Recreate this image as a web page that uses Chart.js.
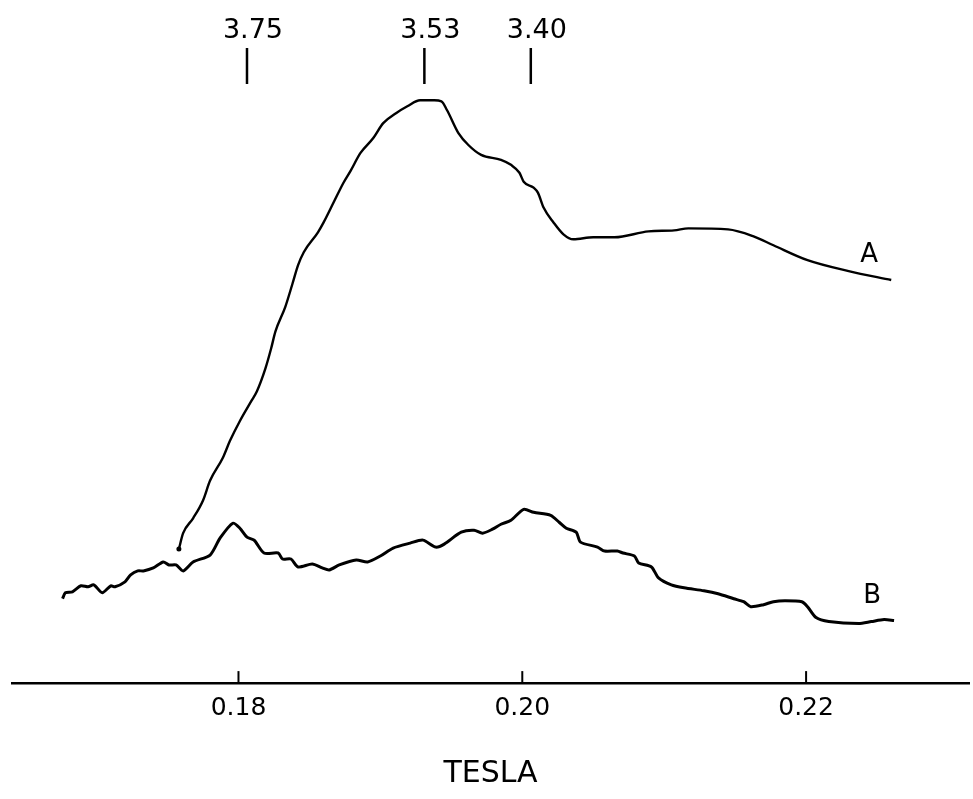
<!DOCTYPE html>
<html>
<head>
<meta charset="utf-8">
<title>ESR spectra A and B</title>
<script src="https://cdn.jsdelivr.net/npm/chart.js@4.4.1/dist/chart.umd.min.js"></script>
<style>
  html, body { margin: 0; padding: 0; background: #ffffff; }
  #wrap { width: 973px; height: 799px; position: relative; }
</style>
</head>
<body>
<div id="wrap"><canvas id="esrChart"></canvas></div>
<script>
// Magnetic field (tesla) and signal (arbitrary units)
const fieldA = [0.1758, 0.1761, 0.1768, 0.1775, 0.1780, 0.1789, 0.1794, 0.1801, 0.1809, 0.1813,
  0.1819, 0.1823, 0.1826, 0.1833, 0.1838, 0.1842, 0.1846, 0.1856, 0.1860, 0.1867,
  0.1874, 0.1879, 0.1886, 0.1895, 0.1902, 0.1911, 0.1919, 0.1928, 0.1938, 0.1943,
  0.1947, 0.1955, 0.1962, 0.1971, 0.1985, 0.1992, 0.1998, 0.2001, 0.2008, 0.2011,
  0.2015, 0.2022, 0.2029, 0.2036, 0.2050, 0.2065, 0.2089, 0.2107, 0.2117, 0.2145,
  0.2163, 0.2177, 0.2201, 0.2230, 0.2260];
const signalA = [13.5, 15.1, 16.6, 18.4, 20.4, 22.7, 24.4, 26.4, 28.4, 29.4,
  31.7, 33.7, 35.4, 37.9, 40.2, 42.1, 43.4, 45.4, 46.4, 48.4,
  50.4, 51.6, 53.4, 54.9, 56.4, 57.4, 58.1, 58.7, 58.7, 58.6,
  57.7, 55.4, 54.2, 53.2, 52.7, 52.2, 51.4, 50.5, 49.9, 49.4,
  47.9, 46.4, 45.2, 44.7, 44.9, 44.9, 45.5, 45.6, 45.8, 45.7,
  45.0, 44.1, 42.6, 41.5, 40.6];

const fieldB = [0.1676, 0.1678, 0.1683, 0.1689, 0.1694, 0.1698, 0.1704, 0.1710, 0.1713, 0.1720,
  0.1724, 0.1729, 0.1733, 0.1740, 0.1747, 0.1751, 0.1756, 0.1761, 0.1768, 0.1780,
  0.1787, 0.1796, 0.1801, 0.1806, 0.1811, 0.1818, 0.1828, 0.1831, 0.1837, 0.1842,
  0.1852, 0.1859, 0.1864, 0.1871, 0.1883, 0.1891, 0.1900, 0.1909, 0.1921, 0.1930,
  0.1939, 0.1945, 0.1957, 0.1966, 0.1972, 0.1979, 0.1985, 0.1992, 0.2001, 0.2008,
  0.2020, 0.2026, 0.2031, 0.2038, 0.2041, 0.2053, 0.2058, 0.2067, 0.2071, 0.2079,
  0.2082, 0.2091, 0.2096, 0.2105, 0.2114, 0.2128, 0.2138, 0.2149, 0.2156, 0.2161,
  0.2170, 0.2177, 0.2185, 0.2197, 0.2201, 0.2207, 0.2216, 0.2237, 0.2246, 0.2255,
  0.2262];
const signalB = [8.5, 9.1, 9.2, 9.8, 9.7, 9.9, 9.1, 9.8, 9.7, 10.2,
  10.9, 11.3, 11.3, 11.6, 12.2, 11.9, 11.9, 11.3, 12.2, 12.9,
  14.6, 16.1, 15.6, 14.7, 14.4, 13.1, 13.1, 12.5, 12.5, 11.7,
  12.0, 11.6, 11.4, 11.9, 12.4, 12.2, 12.8, 13.6, 14.1, 14.4,
  13.7, 14.0, 15.2, 15.4, 15.1, 15.5, 16.0, 16.4, 17.5, 17.2,
  16.9, 16.2, 15.6, 15.2, 14.2, 13.7, 13.3, 13.3, 13.1, 12.8,
  12.1, 11.7, 10.6, 9.9, 9.6, 9.3, 9.0, 8.5, 8.2, 7.7,
  7.9, 8.2, 8.3, 8.2, 7.7, 6.6, 6.2, 6.0, 6.2, 6.4,
  6.3];

const curveNames = ['A', 'B'];
const tickValues = [0.18, 0.20, 0.22];
const tickLabels = ['0.18', '0.20', '0.22'];

// g-value markers along the top
const gLabels = ['3.75', '3.53', '3.40'];
const gFields = [0.1806, 0.1931, 0.2006];

const FONT = '"DejaVu Sans", Verdana, sans-serif';

const toPoints = (xs, ys) => xs.map((x, i) => ({ x: x, y: ys[i] }));

// short tick marks sitting above the axis line
const upTicks = {
  id: 'upTicks',
  afterDraw(chart) {
    const xs = chart.scales.x;
    const c = chart.ctx;
    c.save();
    c.strokeStyle = '#000';
    c.lineWidth = 2;
    tickValues.forEach(v => {
      const px = xs.getPixelForValue(v);
      c.beginPath();
      c.moveTo(px, chart.chartArea.bottom - 12);
      c.lineTo(px, chart.chartArea.bottom);
      c.stroke();
    });
    c.restore();
  }
};

// g-value markers and curve names
const annotations = {
  id: 'annotations',
  afterDatasetsDraw(chart) {
    const xs = chart.scales.x;
    const c = chart.ctx;
    c.save();
    c.strokeStyle = '#000';
    c.fillStyle = '#000';
    c.lineWidth = 2.5;
    c.font = '27px ' + FONT;
    c.textAlign = 'center';
    c.textBaseline = 'alphabetic';
    gFields.forEach((g, i) => {
      const px = xs.getPixelForValue(g);
      c.beginPath();
      c.moveTo(px, 48);
      c.lineTo(px, 84);
      c.stroke();
      c.fillText(gLabels[i], px + 6, 38);
    });
    // curve names near the right end of each trace
    c.font = '26px ' + FONT;
    chart.data.datasets.forEach((ds, i) => {
      const meta = chart.getDatasetMeta(i);
      const last = meta.data[meta.data.length - 1];
      c.fillText(curveNames[i], last.x - 22, last.y - 18);
    });
    c.restore();
  }
};

new Chart(document.getElementById('esrChart'), {
  type: 'line',
  data: {
    datasets: [
      {
        label: curveNames[0],
        data: toPoints(fieldA, signalA),
        borderColor: '#000',
        backgroundColor: '#000',
        borderWidth: 2.4,
        pointRadius: fieldA.map((f, i) => (i === 0 ? 2.5 : 0)),
        pointBorderWidth: 0,
        cubicInterpolationMode: 'monotone',
        fill: false
      },
      {
        label: curveNames[1],
        data: toPoints(fieldB, signalB),
        borderColor: '#000',
        borderWidth: 3,
        pointRadius: 0,
        tension: 0.25,
        fill: false
      }
    ]
  },
  plugins: [upTicks, annotations],
  options: {
    responsive: true,
    maintainAspectRatio: false,
    animation: false,
    layout: { padding: { left: 12, right: 0, top: 0, bottom: 2 } },
    plugins: {
      legend: { display: false },
      tooltip: { enabled: false }
    },
    scales: {
      x: {
        type: 'linear',
        min: 0.16404,
        max: 0.23148,
        afterBuildTicks: scale => {
          scale.ticks = tickValues.map(v => ({ value: v }));
        },
        ticks: {
          color: '#000',
          padding: 10,
          maxRotation: 0,
          font: { family: FONT, size: 25 },
          callback: (value) => {
            const i = tickValues.findIndex(t => Math.abs(t - value) < 1e-9);
            return i >= 0 ? tickLabels[i] : '';
          }
        },
        grid: { display: true, drawOnChartArea: false, drawTicks: false },
        border: { display: true, color: '#000', width: 2.5 },
        title: {
          display: true,
          text: 'TESLA',
          color: '#000',
          font: { family: FONT, size: 30 },
          padding: { top: 22.9, bottom: 5 }
        }
      },
      y: {
        display: false,
        min: 0,
        max: 68.4
      }
    }
  }
});
</script>
</body>
</html>
